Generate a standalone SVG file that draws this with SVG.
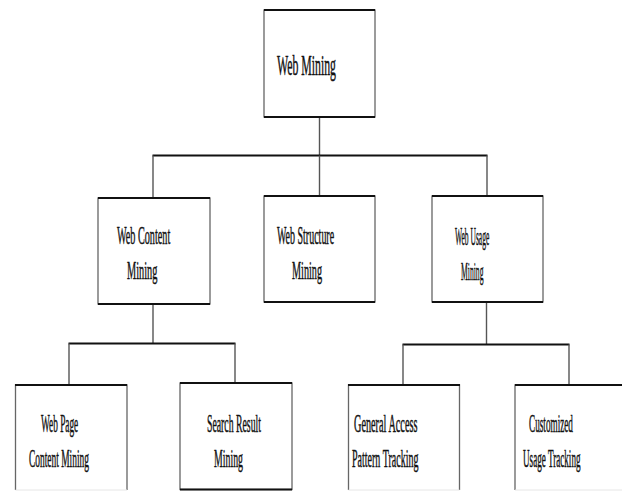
<svg xmlns="http://www.w3.org/2000/svg" width="622" height="491" viewBox="0 0 622 491">
<style>
.box{fill:#fff;stroke:#666;stroke-width:1.3}
.edge{stroke:#111;stroke-width:2;fill:none}
.faint{stroke:#e6e6e6;stroke-width:1;fill:none}
.side{stroke:#666;stroke-width:1.3;fill:none}
.lbl{font-family:"Liberation Serif","Times New Roman",serif;font-size:26px;fill:#111;stroke:#111;stroke-width:0.5}
.big{font-size:29px}
.v{stroke:#555;stroke-width:1.4;fill:none}
.h{stroke:#111;stroke-width:2.2;fill:none}
</style>
<rect width="622" height="491" fill="#fff"/>
<g id="connectors">
<line class="v" x1="319.5" y1="117" x2="319.5" y2="155.5"/>
<line class="h" x1="152.5" y1="155.5" x2="487.5" y2="155.5"/>
<line class="v" x1="153" y1="155.5" x2="153" y2="198"/>
<line class="v" x1="319.5" y1="155.5" x2="319.5" y2="196"/>
<line class="v" x1="487" y1="155.5" x2="487" y2="196"/>
<line class="v" x1="153" y1="304" x2="153" y2="343.5"/>
<line class="h" x1="68.5" y1="343.5" x2="235.5" y2="343.5"/>
<line class="v" x1="69" y1="343.5" x2="69" y2="385"/>
<line class="v" x1="235" y1="343.5" x2="235" y2="383"/>
<line class="v" x1="486.5" y1="302" x2="486.5" y2="344.5"/>
<line class="h" x1="402.5" y1="344.5" x2="569.5" y2="344.5"/>
<line class="v" x1="403" y1="344.5" x2="403" y2="385"/>
<line class="v" x1="569" y1="344.5" x2="569" y2="385"/>
</g>
<g id="web-mining">
<rect class="box" x="264" y="10" width="111" height="107"/>
<line class="edge" x1="264" y1="10" x2="375" y2="10"/>
<line class="edge" x1="264" y1="117" x2="375" y2="117"/>
<text class="lbl big" transform="translate(277 75) scale(0.407 1)">Web Mining</text>
</g>
<g id="web-content-mining">
<rect class="box" x="98" y="198" width="112" height="106"/>
<line class="edge" x1="98" y1="198" x2="210" y2="198"/>
<line class="edge" x1="98" y1="304" x2="210" y2="304"/>
<text class="lbl" transform="translate(117 244) scale(0.392 1)">Web Content</text>
<text class="lbl" transform="translate(127 279) scale(0.398 1)">Mining</text>
</g>
<g id="web-structure-mining">
<rect class="box" x="264" y="196" width="111" height="106"/>
<line class="edge" x1="264" y1="196" x2="375" y2="196"/>
<line class="edge" x1="264" y1="302" x2="375" y2="302"/>
<text class="lbl" transform="translate(277 243.5) scale(0.384 1)">Web Structure</text>
<text class="lbl" transform="translate(292 278.5) scale(0.392 1)">Mining</text>
</g>
<g id="web-usage-mining">
<rect class="box" x="432" y="196" width="111" height="106"/>
<line class="edge" x1="432" y1="196" x2="543" y2="196"/>
<line class="edge" x1="432" y1="302" x2="543" y2="302"/>
<text class="lbl" transform="translate(455 245) scale(0.29 1)">Web Usage</text>
<text class="lbl" transform="translate(461 280) scale(0.294 1)">Mining</text>
</g>
<g id="web-page-content-mining">
<path class="side" d="M15.5,490 V385 H127 V490"/>
<line class="edge" x1="15" y1="385" x2="127" y2="385"/>
<line class="faint" x1="15.5" y1="490" x2="127" y2="490"/>
<text class="lbl" transform="translate(41 432) scale(0.358 1)">Web Page</text>
<text class="lbl" transform="translate(29 467) scale(0.363 1)">Content Mining</text>
</g>
<g id="search-result-mining">
<rect class="box" x="180" y="383" width="112" height="106.5"/>
<line class="edge" x1="180" y1="383" x2="292" y2="383"/>
<line class="edge" x1="180" y1="489.5" x2="292" y2="489.5"/>
<text class="lbl" transform="translate(207 432) scale(0.376 1)">Search Result</text>
<text class="lbl" transform="translate(214 467) scale(0.379 1)">Mining</text>
</g>
<g id="general-access-pattern-tracking">
<path class="side" d="M348.5,490 V385 H459.5 V490"/>
<line class="edge" x1="348" y1="385" x2="460" y2="385"/>
<line class="faint" x1="348.5" y1="490" x2="459.5" y2="490"/>
<text class="lbl" transform="translate(354 432) scale(0.394 1)">General Access</text>
<text class="lbl" transform="translate(352 467) scale(0.385 1)">Pattern Tracking</text>
</g>
<g id="customized-usage-tracking">
<path class="side" d="M515,490 V385 H626"/>
<line class="edge" x1="515" y1="385" x2="626" y2="385"/>
<line class="faint" x1="515" y1="490" x2="622" y2="490"/>
<text class="lbl" transform="translate(529 432) scale(0.354 1)">Customized</text>
<text class="lbl" transform="translate(523 467) scale(0.351 1)">Usage Tracking</text>
</g>
</svg>
